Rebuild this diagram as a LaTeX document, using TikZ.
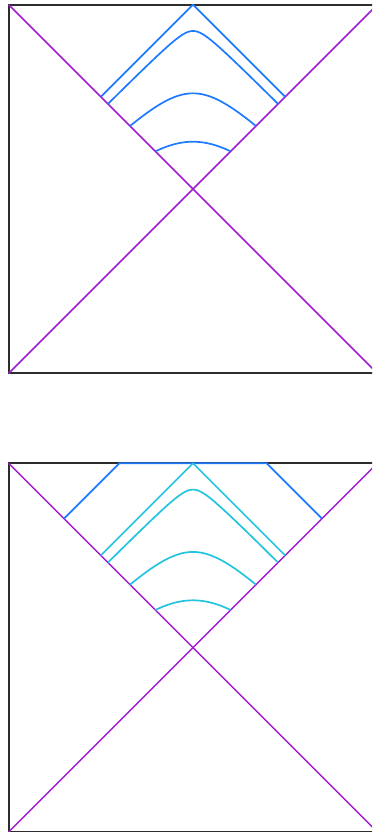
\documentclass[tikz,border=0pt]{standalone}
\definecolor{framec}{RGB}{45,45,45}
\definecolor{diagc}{RGB}{162,28,210}
\definecolor{bluec}{RGB}{30,122,255}
\definecolor{cyanc}{RGB}{34,196,222}
\tikzset{
  frameline/.style={draw=framec,line width=2.2pt},
  diagline/.style={draw=diagc,line width=1.5pt},
  bluecurve/.style={draw=bluec,line width=1.7pt,line join=round},
  cyancurve/.style={draw=cyanc,line width=1.7pt,line join=round},
}
\newcommand{\slicecurves}[1]{%
  \draw[#1] (-0.5,0.5) -- (0,1) -- (0.5,0.5);
  \foreach \cc in {12,2.158,0.69}{%
    \draw[#1] plot[domain=0:\cc,samples=220,variable=\u,smooth]
      ({(\u/(1+\u) - (\cc-\u)/(1+\cc-\u))/2},{(\u/(1+\u) + (\cc-\u)/(1+\cc-\u))/2});
  }%
}
\begin{document}
\begin{tikzpicture}[x=1pt,y=1pt]
\useasboundingbox (0,0) rectangle (372,832);
\clip (0,0) rectangle (372,832);
% top panel
\begin{scope}[shift={(193,643)},x=184.3pt,y=184.3pt]
  \draw[frameline] (-1,-1) rectangle (1,1);
  \coordinate (tl1) at (-1,1); \coordinate (tr1) at (1,1);
  \coordinate (bl1) at (-1,-1); \coordinate (br1) at (1,-1);
  \draw[diagline] (tl1) -- (br1);
  \draw[diagline] (bl1) -- (tr1);
  \slicecurves{bluecurve}
\end{scope}
% bottom panel
\begin{scope}[shift={(193,184.4)},x=184.3pt,y=184.3pt]
  \draw[frameline] (-1,-1) rectangle (1,1);
  \coordinate (tl2) at (-1,1); \coordinate (tr2) at (1,1);
  \coordinate (bl2) at (-1,-1); \coordinate (br2) at (1,-1);
  \draw[diagline] (tl2) -- (br2);
  \draw[diagline] (bl2) -- (tr2);
  \draw[bluecurve] (-0.7,0.7) -- (-0.4,1) -- (0.4,1) -- (0.7,0.7);
  \slicecurves{cyancurve}
\end{scope}
\end{tikzpicture}
\end{document}
